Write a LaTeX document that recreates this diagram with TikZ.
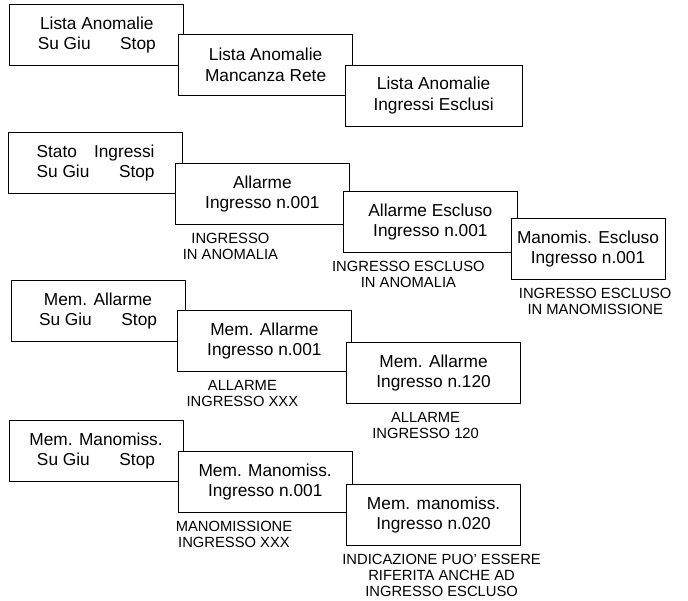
\documentclass[tikz,border=0pt]{standalone}
\usepackage{fontspec}
\setmainfont{Liberation Sans}
\usepackage{tikz}
\usetikzlibrary{positioning}
\tikzset{
  screen/.style={draw, fill=white, line width=0.6pt, minimum width=4.35cm, minimum height=1.52cm,
    align=center, inner sep=0pt, font=\fontsize{12.3}{14.4}\selectfont},
  note/.style={align=center, inner sep=0pt, font=\fontsize{10.5}{11.6}\selectfont}
}
\newcommand{\keyrow}{\makebox[2.95cm]{Su Giu\hfill Stop}}

\begin{document}
\begin{tikzpicture}
\useasboundingbox (0,0) rectangle (17.2,15);

% Lista anomalie
\node[screen] (lista) at (2.42,14.12) {Lista Anomalie\\ \keyrow};
\node[screen] (rete) at (6.64,13.38) {Lista Anomalie\\ Mancanza Rete};
\node[screen, minimum width=4.42cm] (esclusi) at (10.84,12.61) {Lista Anomalie\\ Ingressi Esclusi};

% Stato ingressi
\node[screen] (stato) at (2.39,10.93) {\makebox[2.95cm]{Stato\hfill Ingressi}\\ \keyrow};
\node[screen] (allarme) at (6.56,10.15) {Allarme\\ Ingresso n.001};
\node[note, below=0.2cm of allarme, xshift=-0.8cm] (allarmenote) {INGRESSO\\ IN ANOMALIA};
\node[screen] (allesc) at (10.76,9.45) {Allarme Escluso\\ Ingresso n.001};
\node[note, below=0.2cm of allesc, xshift=-0.55cm] (allescnote) {INGRESSO ESCLUSO\\ IN ANOMALIA};
\node[screen, minimum width=3.85cm] (manesc) at (14.70,8.78) {Manomis. Escluso\\ Ingresso n.001};
\node[note, below=0.2cm of manesc, xshift=0.18cm] (manescnote) {INGRESSO ESCLUSO\\ IN MANOMISSIONE};

% Memoria allarmi
\node[screen] (memall) at (2.45,7.23) {Mem. Allarme\\ \keyrow};
\node[screen] (memall1) at (6.61,6.48) {Mem. Allarme\\ Ingresso n.001};
\node[note, below=0.2cm of memall1, xshift=-0.55cm] (memall1note) {ALLARME\\ INGRESSO XXX};
\node[screen] (memall120) at (10.84,5.68) {Mem. Allarme\\ Ingresso n.120};
\node[note, below=0.2cm of memall120, xshift=-0.2cm] (memall120note) {ALLARME\\ INGRESSO 120};

% Memoria manomissioni
\node[screen] (memman) at (2.40,3.73) {Mem. Manomiss.\\ \keyrow};
\node[screen] (memman1) at (6.63,2.95) {Mem. Manomiss.\\ Ingresso n.001};
\node[note, below=0.2cm of memman1, xshift=-0.78cm] (memman1note) {MANOMISSIONE\\ INGRESSO XXX};
\node[screen] (memman20) at (10.84,2.13) {Mem. manomiss.\\ Ingresso n.020};
\node[note, below=0.2cm of memman20, xshift=0.2cm] (memman20note) {INDICAZIONE PUO' ESSERE\\ RIFERITA ANCHE AD\\ INGRESSO ESCLUSO};
\end{tikzpicture}
\end{document}
